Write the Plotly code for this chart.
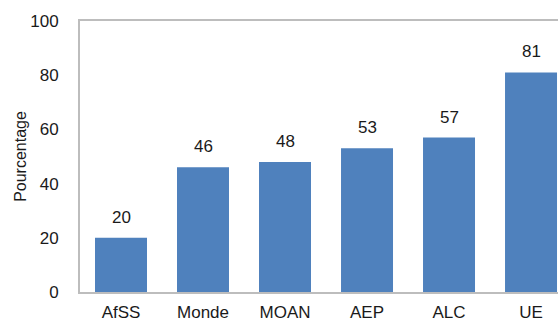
import plotly.graph_objects as go

# Regions and their share (%)
regions = ["AfSS", "Monde", "MOAN", "AEP", "ALC", "UE"]
values = [20, 46, 48, 53, 57, 81]
y_ticks = [0, 20, 40, 60, 80, 100]

bar_color = "#4F81BD"
frame_color = "#BDBDBD"
text_color = "#1a1a1a"
font_family = "Liberation Sans, Arial, sans-serif"

fig = go.Figure()
fig.add_trace(go.Bar(
    x=list(range(len(regions))),
    y=values,
    marker=dict(color=bar_color, line=dict(width=0)),
    hoverinfo="x+y",
))

# value labels above each bar
for i, v in enumerate(values):
    fig.add_annotation(
        x=i, y=v, text=str(v), showarrow=False,
        yanchor="bottom", yshift=9,
        font=dict(family=font_family, size=17, color=text_color),
    )

fig.update_layout(
    width=558, height=324,
    margin=dict(l=80, r=0, t=21, b=32),
    paper_bgcolor="white", plot_bgcolor="white",
    bargap=0.366,
    showlegend=False,
    font=dict(family=font_family, size=17, color=text_color),
)

fig.update_xaxes(
    automargin=False,
    tickmode="array",
    tickvals=list(range(len(regions))),
    ticktext=regions,
    range=[-0.5, 5.329],
    showline=True, linecolor=frame_color, linewidth=2, mirror=True,
    showgrid=False, zeroline=False, ticks="",
    ticklabelstandoff=4,
    tickfont=dict(size=17),
)

fig.update_yaxes(
    automargin=False,
    range=[0, 100],
    tickmode="array", tickvals=y_ticks,
    showline=True, linecolor=frame_color, linewidth=2, mirror=True,
    showgrid=False, zeroline=False, ticks="",
    ticklabelstandoff=16,
    tickfont=dict(size=17),
    title=dict(text="Pourcentage", font=dict(size=16), standoff=0),
)

fig.write_html("out.html")
